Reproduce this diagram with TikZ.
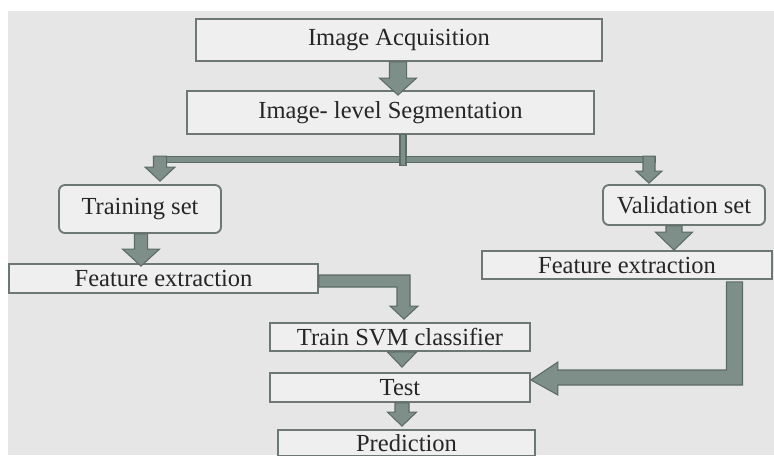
\documentclass[tikz,border=0pt]{standalone}
\usepackage{fontspec}
\setmainfont{Liberation Serif}
\usepackage{xcolor}
\usepackage{tikz}
\usetikzlibrary{calc,positioning}
\definecolor{slidebg}{HTML}{E6E6E6}
\definecolor{boxfill}{HTML}{EFEFEF}
\definecolor{boxline}{HTML}{6E7873}
\definecolor{arrowfill}{HTML}{7D8F88}
\definecolor{arrowline}{HTML}{5C6B65}
\newcommand{\blkdown}[5]{%
  \path[blk] let \p1=(#1), \p2=(#2) in
    (\x2-#3,\y1) -- (\x2-#3,\y2+#5) -- (\x2-#4,\y2+#5) -- (\x2,\y2)
    -- (\x2+#4,\y2+#5) -- (\x2+#3,\y2+#5) -- (\x2+#3,\y1) -- cycle;}

\begin{document}
\begin{tikzpicture}[
    x=0.75pt, y=-0.75pt,
    font=\fontsize{18.4pt}{22pt}\selectfont,
    box/.style={rectangle, draw=boxline, fill=boxfill, line width=1.4pt, inner sep=0, text=black!85},
    setbox/.style={box, rounded corners=4.5pt},
    blk/.style={draw=arrowline, fill=arrowfill, line width=0.8pt, line join=miter}]
\useasboundingbox (0,0) rectangle (774,455);
\clip (0,0) rectangle (774,455);
\fill[white] (0,0) rectangle (774,455);
\fill[slidebg] (8,11) rectangle (774,455);

\node[box, minimum width=304.5pt, minimum height=31.5pt] (acq) at (399,40) {Image Acquisition};
\node[box, minimum width=305.25pt, minimum height=32.25pt] (seg) at (390.5,112.5) {Image- level Segmentation};
\node[setbox, minimum width=121.5pt, minimum height=36pt] (train) at (140,209) {Training set};
\node[setbox, minimum width=121.5pt, minimum height=30pt] (valid) at (684,205) {Validation set};
\node[box, minimum width=231.75pt, minimum height=21.75pt] (featL) at (163.5,278.5) {Feature extraction};
\node[box, minimum width=217.5pt, minimum height=21pt] (featR) at (627,265) {Feature extraction};
\node[box, minimum width=195pt, minimum height=21pt] (svm) at (400,337) {Train SVM classifier};
\node[box, minimum width=195pt, minimum height=21.75pt] (test) at (400,387.5) {Test};
\node[box, minimum width=192.75pt, minimum height=19.5pt] (pred) at (406.5,443) {Prediction};

\blkdown{acq.south}{$(seg.north)+(7.5,5)$}{6.4pt}{13.9pt}{12.75pt}
\path[blk] ($(train.north)+(14,-28)$) rectangle ($(valid.north)+(-29,-22)$);
\blkdown{$(train.north)+(20,-28)$}{$(train.north)+(20,-3)$}{4.9pt}{11.25pt}{10.5pt}
\blkdown{$(valid.north)+(-35,-28)$}{$(valid.north)+(-35,-1)$}{4.5pt}{9.75pt}{9pt}
\path[blk] ($(seg.south)+(9.5,0)$) rectangle ($(seg.south)+(15.5,31)$);
\blkdown{train.south}{$(featL.north)+(-22.5,3)$}{4.9pt}{13.9pt}{12.75pt}
\blkdown{valid.south}{$(featR.north)+(47,0)$}{6pt}{13.9pt}{13.5pt}
\path[blk] ($(featL.east)+(0,-3.5)$) -| ($(svm.north)+(10,-16)$) -- ++(8,0) -- ($(svm.north)+(4,-3)$)
    -- ++(-14,-13) -- ++(7,0) |- ($(featL.east)+(0,8.5)$) -- cycle;
\blkdown{svm.south}{$(test.north)+(2,-5)$}{5.25pt}{10.9pt}{11.25pt}
\blkdown{test.south}{$(pred.north)+(-4.5,-3)$}{5.25pt}{10.9pt}{10.5pt}
\path[blk] ($(featR.south)+(99.5,2)$) |- ($(test.east)+(27,-17.5)$) -- ++(0,-8) -- ($(test.east)+(0,-7.5)$)
    -- ++(27,15) -- ++(0,-10) -| ($(featR.south)+(115.5,2)$) -- cycle;

\end{tikzpicture}
\end{document}
